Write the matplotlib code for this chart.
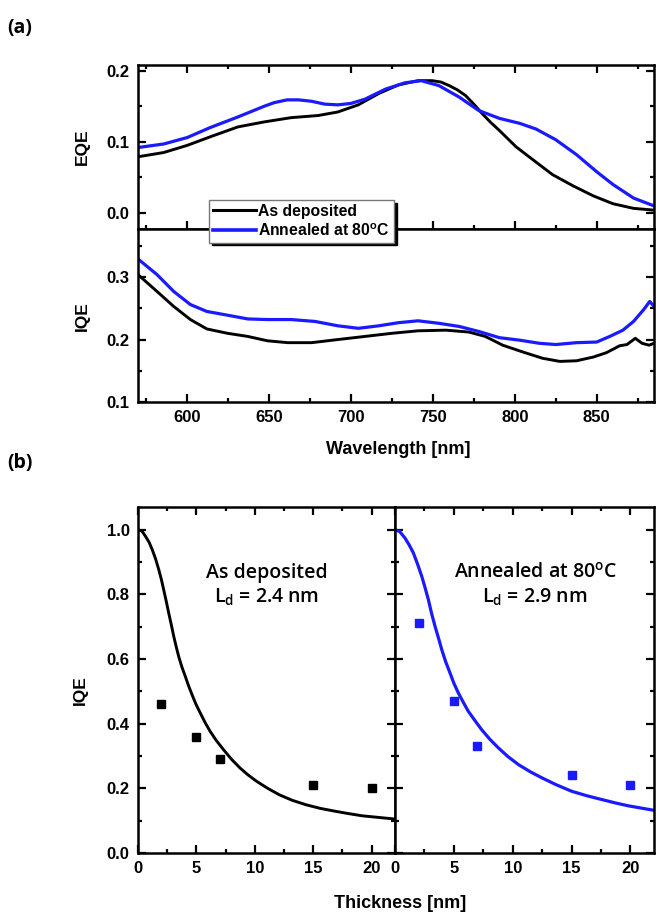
import matplotlib
matplotlib.use("Agg")
import matplotlib.pyplot as plt
from matplotlib.ticker import MultipleLocator
from matplotlib.lines import Line2D
import numpy as np

# ---- panel (a): EQE / IQE spectra ----
wl_eqe_dep = [570, 585.7, 600, 614, 631, 647, 663.5, 680, 692, 704.5, 717, 729, 741, 749.6,
              755, 760, 765, 770, 775, 780, 785, 790.6, 800.8, 811, 823, 835.7, 848, 860,
              872.5, 885]
eqe_dep = [0.079, 0.085, 0.095, 0.107, 0.121, 0.128, 0.134, 0.137, 0.142, 0.152, 0.168, 0.180,
           0.186, 0.186, 0.184, 0.179, 0.173, 0.165, 0.153, 0.140, 0.128, 0.116, 0.093, 0.075,
           0.054, 0.038, 0.024, 0.013, 0.0065, 0.004]
wl_eqe_ann = [570, 585.7, 600, 614, 631, 647, 653, 661, 668, 676, 684, 692, 700, 708.6, 721,
              733, 743, 753.7, 766, 778, 790.6, 803, 813, 825, 837.7, 850, 860, 872.5, 885]
eqe_ann = [0.092, 0.097, 0.106, 0.120, 0.135, 0.150, 0.155, 0.159, 0.159, 0.157, 0.153, 0.152,
           0.154, 0.160, 0.174, 0.183, 0.186, 0.179, 0.163, 0.144, 0.133, 0.126, 0.118, 0.103,
           0.082, 0.058, 0.040, 0.021, 0.010]

wl_iqe_dep = [570, 581.6, 591.8, 602, 612, 624.6, 637, 649, 661.5, 676, 692, 708.6, 725, 741,
              758, 772, 782, 792.6, 805, 817, 827.5, 837.7, 848, 856, 864, 868.5, 873.6, 877.7,
              882, 885]
iqe_dep = [0.304, 0.277, 0.253, 0.232, 0.217, 0.210, 0.205, 0.198, 0.195, 0.195, 0.200, 0.205,
           0.210, 0.214, 0.215, 0.212, 0.205, 0.191, 0.180, 0.170, 0.165, 0.166, 0.172, 0.179,
           0.190, 0.192, 0.202, 0.194, 0.191, 0.194]
wl_iqe_ann = [570, 581.6, 591.8, 602, 612, 624.6, 637, 649, 663.5, 678, 692, 704.5, 717, 729,
              741, 753.7, 766, 778, 790.6, 803, 815, 825, 837.7, 850, 858, 866, 872.5, 878.7,
              882.4, 885]
iqe_ann = [0.329, 0.304, 0.277, 0.256, 0.245, 0.239, 0.233, 0.232, 0.232, 0.229, 0.222, 0.218,
           0.222, 0.227, 0.230, 0.226, 0.221, 0.213, 0.203, 0.199, 0.194, 0.192, 0.195, 0.196,
           0.205, 0.215, 0.229, 0.248, 0.261, 0.253]

# ---- panel (b): IQE vs thickness ----
thick = [2, 5, 7, 15, 20]
iqe_thick_dep = [0.46, 0.36, 0.29, 0.21, 0.20]
iqe_thick_ann = [0.71, 0.47, 0.33, 0.24, 0.21]

fit_x_dep = [0, 0.35, 0.65, 0.95, 1.22, 1.5, 1.78, 2.0, 2.2, 2.42, 2.63, 2.85, 3.06, 3.27,
             3.48, 3.75, 4.05, 4.33, 4.62, 4.95, 5.33, 5.75, 6.18, 6.7, 7.31, 8.0, 8.73, 9.4,
             10.14, 11.1, 12.1, 13.2, 14.4, 15.6, 16.9, 18.0, 19.2, 20.6, 22]
fit_y_dep = [1.0, 0.995, 0.979, 0.961, 0.938, 0.910, 0.876, 0.846, 0.814, 0.778, 0.742, 0.706,
             0.670, 0.638, 0.608, 0.576, 0.546, 0.517, 0.490, 0.461, 0.433, 0.403, 0.376,
             0.348, 0.320, 0.290, 0.263, 0.242, 0.222, 0.200, 0.180, 0.163, 0.149, 0.138,
             0.129, 0.122, 0.115, 0.110, 0.105]
fit_x_ann = [0, 0.4, 0.85, 1.2, 1.56, 1.9, 2.27, 2.55, 2.83, 3.1, 3.4, 3.7, 3.97, 4.3, 4.67,
             5.0, 5.38, 5.8, 6.23, 6.8, 7.37, 8.05, 8.78, 9.6, 10.5, 11.5, 12.5, 13.7, 15.0,
             16.3, 17.6, 18.7, 19.8, 20.9, 22]
fit_y_ann = [1.0, 0.994, 0.974, 0.953, 0.928, 0.895, 0.856, 0.821, 0.784, 0.742, 0.701, 0.664,
             0.629, 0.592, 0.557, 0.525, 0.495, 0.466, 0.438, 0.409, 0.381, 0.352, 0.325,
             0.298, 0.273, 0.251, 0.232, 0.211, 0.191, 0.177, 0.165, 0.155, 0.146, 0.139, 0.132]

labels = ["As deposited", "Annealed at 80$^\\mathregular{o}$C"]
blue = "#1a1aff"

plt.rcParams['font.family'] = ['Liberation Sans', 'DejaVu Sans']
plt.rcParams['font.weight'] = 'bold'
plt.rcParams['mathtext.default'] = 'regular'
plt.rcParams['lines.solid_joinstyle'] = 'round'

W, H = 656, 916
fig = plt.figure(figsize=(W / 100, H / 100), dpi=100)


def box(l, t, r, b):
    return [l / W, 1 - b / H, (r - l) / W, (b - t) / H]


def style(ax, xmaj, xmin, ymaj, ymin, **kw):
    ax.xaxis.set_major_locator(MultipleLocator(xmaj))
    ax.xaxis.set_minor_locator(MultipleLocator(xmin))
    ax.yaxis.set_major_locator(MultipleLocator(ymaj))
    ax.yaxis.set_minor_locator(MultipleLocator(ymin))
    ax.tick_params(which='both', direction='in', top=True, right=True, width=1.6,
                   labelsize=12, **kw)
    ax.tick_params(which='major', length=5.5, pad=6)
    ax.tick_params(which='minor', length=3)
    for s in ax.spines.values():
        s.set_linewidth(1.8)


ax1 = fig.add_axes(box(138, 65, 654, 229))
ax1.plot(wl_eqe_dep, eqe_dep, color='black', lw=2.1)
ax1.plot(wl_eqe_ann, eqe_ann, color=blue, lw=2.3)
ax1.set_xlim(570, 885)
ax1.set_ylim(-0.0225, 0.208)
style(ax1, 50, 25, 0.1, 0.05, labelbottom=False)
ax1.set_yticks([0.0, 0.1, 0.2])
ax1.set_yticklabels(["0.0", "0.1", "0.2"])

ax2 = fig.add_axes(box(138, 229, 654, 402))
ax2.plot(wl_iqe_dep, iqe_dep, color='black', lw=2.1)
ax2.plot(wl_iqe_ann, iqe_ann, color=blue, lw=2.3)
ax2.set_xlim(570, 885)
ax2.set_ylim(0.1, 0.377)
style(ax2, 50, 25, 0.1, 0.05)
ax2.tick_params(which='both', top=False)

fig.text(82 / W, 1 - 147 / H, "EQE", rotation=90, ha='center', va='center', fontsize=12.5)
fig.text(82 / W, 1 - 316 / H, "IQE", rotation=90, ha='center', va='center', fontsize=12.5)
fig.text(398 / W, 1 - 450 / H, "Wavelength [nm]", ha='center', va='center', fontsize=13)

handles = [Line2D([], [], color='black', lw=2.2), Line2D([], [], color=blue, lw=2.6)]
fig.legend(handles, labels, loc='upper left', bbox_to_anchor=(209 / W, 1 - 200 / H),
           borderaxespad=0, fontsize=11.3, handlelength=2.75, handletextpad=0.15,
           borderpad=0.25, labelspacing=0.2, fancybox=False, framealpha=1,
           edgecolor='#777777', shadow={'color': 'black', 'alpha': 1})

ax3 = fig.add_axes(box(138, 507, 395, 853))
ax3.plot(fit_x_dep, fit_y_dep, color='black', lw=2.1)
ax3.plot(thick, iqe_thick_dep, 's', color='black', ms=5.5)
ax3.set_xlim(0, 22)
ax3.set_ylim(0, 1.07)
style(ax3, 5, 2.5, 0.2, 0.1)

ax4 = fig.add_axes(box(395, 507, 654, 853))
ax4.plot(fit_x_ann, fit_y_ann, color=blue, lw=2.3)
ax4.plot(thick, iqe_thick_ann, 's', color=blue, ms=5.5)
ax4.set_xlim(0, 22)
ax4.set_ylim(0, 1.07)
style(ax4, 5, 2.5, 0.2, 0.1, labelleft=False)

for ax, name, ld, x in [(ax3, labels[0], "2.4", 11.0), (ax4, labels[1], "2.9", 11.9)]:
    ax.text(x, 0.867, name, ha='center', va='center', fontsize=14, family='Open Sans',
            weight='semibold')
    ax.text(x, 0.79, "L$_\\mathregular{d}$ = " + ld + " nm", ha='center', va='center',
            fontsize=14, family='Open Sans', weight='semibold')

fig.text(80 / W, 1 - 690 / H, "IQE", rotation=90, ha='center', va='center', fontsize=12.5)
fig.text(400 / W, 1 - 903 / H, "Thickness [nm]", ha='center', va='center', fontsize=13)

fig.text(20 / W, 1 - 28 / H, "(a)", ha='center', va='center', fontsize=14,
         family='Open Sans', weight='bold')
fig.text(20 / W, 1 - 463 / H, "(b)", ha='center', va='center', fontsize=14,
         family='Open Sans', weight='bold')

plt.savefig("out.png", dpi=100)
